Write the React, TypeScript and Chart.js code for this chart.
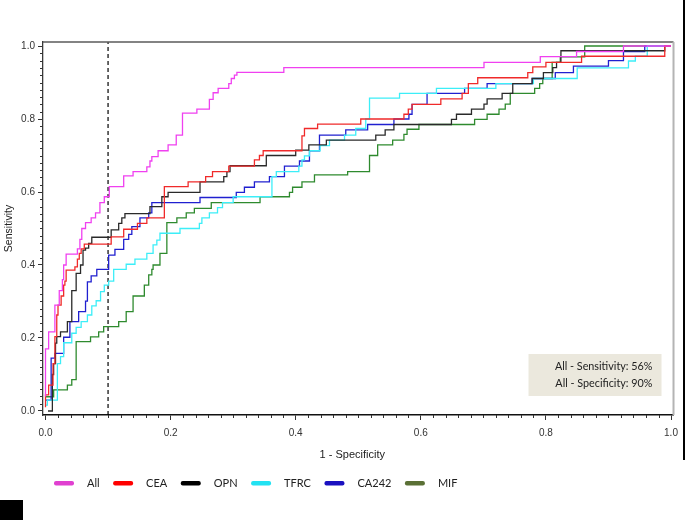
import React, { useEffect, useRef } from 'react';
import { Chart, registerables } from 'chart.js';

Chart.register(...registerables);

// ---- data ----
const seriesNames = ['All', 'CEA', 'OPN', 'TFRC', 'CA242', 'MIF'];
const lineColors = ['#f040f0', '#f02a2a', '#2a2a2a', '#3ceef8', '#2020d0', '#2e8a2e'];
const legendColors = ['#e040d0', '#ff0000', '#000000', '#22e2f2', '#1a10c0', '#5a7035'];

// each point: [1 - specificity, sensitivity] where the step rises
const allCurve = [
  [0, 0.04], [0, 0.17], [0.005, 0.217], [0.015, 0.29], [0.022, 0.33], [0.027, 0.36], [0.029, 0.4],
  [0.033, 0.43], [0.051, 0.444], [0.055, 0.47], [0.058, 0.5], [0.064, 0.516], [0.073, 0.529],
  [0.08, 0.543], [0.087, 0.571], [0.094, 0.587], [0.102, 0.615], [0.125, 0.644], [0.14, 0.656],
  [0.162, 0.669], [0.167, 0.685], [0.17, 0.697], [0.18, 0.713], [0.196, 0.729], [0.209, 0.756],
  [0.219, 0.816], [0.242, 0.827], [0.262, 0.854], [0.268, 0.872], [0.276, 0.884], [0.293, 0.897],
  [0.297, 0.911], [0.302, 0.92], [0.306, 0.928], [0.381, 0.941], [0.701, 0.955], [0.791, 0.971],
  [0.849, 0.985], [0.924, 1.0], [1.0, 1.0],
];
const ceaCurve = [
  [0, 0.01], [0, 0.044], [0.005, 0.071], [0.012, 0.13], [0.015, 0.204], [0.018, 0.263], [0.02, 0.29],
  [0.025, 0.315], [0.029, 0.345], [0.031, 0.356], [0.033, 0.386], [0.047, 0.395], [0.051, 0.416],
  [0.054, 0.432], [0.057, 0.444], [0.062, 0.457], [0.105, 0.477], [0.125, 0.498], [0.147, 0.514],
  [0.162, 0.529], [0.19, 0.615], [0.228, 0.628], [0.256, 0.642], [0.267, 0.656], [0.293, 0.671],
  [0.334, 0.688], [0.342, 0.7], [0.348, 0.713], [0.41, 0.754], [0.414, 0.774], [0.435, 0.786],
  [0.504, 0.8], [0.573, 0.813], [0.58, 0.827], [0.586, 0.84], [0.632, 0.855], [0.666, 0.87],
  [0.676, 0.897], [0.691, 0.913], [0.771, 0.927], [0.779, 0.943], [0.8, 0.955], [0.857, 0.972],
  [0.99, 1.0], [1.0, 1.0],
];
const opnCurve = [
  [0.004, 0.0], [0.011, 0.1], [0.013, 0.13], [0.016, 0.186], [0.018, 0.204], [0.024, 0.217],
  [0.035, 0.245], [0.042, 0.33], [0.049, 0.377], [0.056, 0.4], [0.06, 0.441], [0.064, 0.446],
  [0.069, 0.459], [0.074, 0.476], [0.105, 0.496], [0.117, 0.514], [0.122, 0.529], [0.127, 0.541],
  [0.167, 0.56], [0.186, 0.587], [0.196, 0.599], [0.247, 0.628], [0.285, 0.642], [0.29, 0.656],
  [0.295, 0.672], [0.353, 0.7], [0.4, 0.715], [0.421, 0.729], [0.449, 0.742], [0.528, 0.756],
  [0.543, 0.77], [0.557, 0.785], [0.649, 0.799], [0.657, 0.813], [0.681, 0.827], [0.701, 0.841],
  [0.706, 0.855], [0.73, 0.87], [0.747, 0.897], [0.778, 0.911], [0.796, 0.927], [0.811, 0.941],
  [0.817, 0.955], [0.824, 0.987], [0.99, 1.0], [1.0, 1.0],
];
const tfrcCurve = [
  [0, 0.016], [0.003, 0.03], [0.019, 0.13], [0.024, 0.149], [0.029, 0.187], [0.042, 0.213],
  [0.049, 0.229], [0.057, 0.245], [0.067, 0.263], [0.074, 0.288], [0.081, 0.302], [0.088, 0.327],
  [0.094, 0.345], [0.101, 0.356], [0.109, 0.388], [0.129, 0.402], [0.143, 0.416], [0.162, 0.432],
  [0.172, 0.455], [0.178, 0.468], [0.183, 0.487], [0.215, 0.5], [0.246, 0.514], [0.25, 0.529],
  [0.262, 0.543], [0.275, 0.557], [0.283, 0.571], [0.3, 0.587], [0.362, 0.642], [0.369, 0.656],
  [0.405, 0.671], [0.41, 0.688], [0.414, 0.699], [0.422, 0.713], [0.439, 0.727], [0.454, 0.742],
  [0.478, 0.756], [0.496, 0.774], [0.512, 0.8], [0.518, 0.857], [0.566, 0.87], [0.625, 0.884],
  [0.72, 0.897], [0.78, 0.911], [0.85, 0.94], [0.932, 0.959], [0.943, 0.972], [0.962, 1.0],
  [1.0, 1.0],
];
const ca242Curve = [
  [0, 0.03], [0.009, 0.145], [0.015, 0.158], [0.029, 0.202], [0.039, 0.245], [0.053, 0.272],
  [0.064, 0.301], [0.067, 0.354], [0.073, 0.37], [0.082, 0.388], [0.101, 0.427], [0.111, 0.443],
  [0.125, 0.47], [0.133, 0.484], [0.138, 0.505], [0.151, 0.529], [0.165, 0.543], [0.17, 0.571],
  [0.247, 0.585], [0.305, 0.599], [0.318, 0.613], [0.334, 0.628], [0.358, 0.642], [0.382, 0.671],
  [0.406, 0.685], [0.422, 0.713], [0.438, 0.756], [0.48, 0.77], [0.515, 0.785], [0.557, 0.8],
  [0.581, 0.813], [0.586, 0.84], [0.61, 0.87], [0.67, 0.884], [0.706, 0.897], [0.778, 0.911],
  [0.815, 0.927], [0.844, 0.945], [0.9, 0.96], [0.924, 0.985], [0.958, 1.0], [1.0, 1.0],
];
const mifCurve = [
  [0, 0.039], [0.013, 0.058], [0.035, 0.071], [0.042, 0.086], [0.049, 0.19], [0.072, 0.203],
  [0.085, 0.217], [0.093, 0.231], [0.117, 0.245], [0.129, 0.272], [0.14, 0.315], [0.158, 0.345],
  [0.165, 0.373], [0.17, 0.388], [0.172, 0.4], [0.183, 0.432], [0.194, 0.516], [0.21, 0.529],
  [0.225, 0.543], [0.238, 0.555], [0.265, 0.571], [0.343, 0.587], [0.39, 0.599], [0.395, 0.613],
  [0.41, 0.628], [0.43, 0.647], [0.483, 0.656], [0.518, 0.7], [0.531, 0.729], [0.555, 0.742],
  [0.573, 0.758], [0.578, 0.772], [0.597, 0.785], [0.686, 0.799], [0.706, 0.813], [0.725, 0.827],
  [0.735, 0.841], [0.743, 0.87], [0.782, 0.884], [0.79, 0.897], [0.795, 0.911], [0.81, 0.955],
  [0.823, 0.97], [0.862, 1.0], [1.0, 1.0],
];
const curves = [allCurve, ceaCurve, opnCurve, tfrcCurve, ca242Curve, mifCurve];

const majorTicks = [0, 0.2, 0.4, 0.6, 0.8, 1.0];
const minorTicks = [
  0.02, 0.04, 0.06, 0.08, 0.1, 0.12, 0.14, 0.16, 0.18, 0.22, 0.24, 0.26, 0.28, 0.3, 0.32, 0.34, 0.36, 0.38,
  0.42, 0.44, 0.46, 0.48, 0.5, 0.52, 0.54, 0.56, 0.58, 0.62, 0.64, 0.66, 0.68, 0.7, 0.72, 0.74, 0.76, 0.78,
  0.82, 0.84, 0.86, 0.88, 0.9, 0.92, 0.94, 0.96, 0.98,
];
const cutoffX = 0.1;
const noteLines = ['All - Sensitivity: 56%', 'All - Specificity: 90%'];
const xTitle = '1 - Specificity';
const yTitle = 'Sensitivity';

const X_MIN = -0.004;
const X_MAX = 1.004;
const Y_MIN = -0.011;
const Y_MAX = 1.011;

const TICK_FONT = '"Liberation Sans Narrow", "Liberation Sans", Arial, sans-serif';
const TITLE_FONT = '"Liberation Sans", Arial, sans-serif';

const decorPlugin = {
  id: 'decor',
  afterDraw(chart: any) {
    const { ctx, chartArea: a, scales } = chart;
    const x = scales.x;
    const y = scales.y;
    ctx.save();
    // minor ticks
    ctx.strokeStyle = '#333';
    ctx.lineWidth = 1;
    minorTicks.forEach((v) => {
      const px = Math.round(x.getPixelForValue(v)) + 0.5;
      ctx.beginPath();
      ctx.moveTo(px, a.bottom);
      ctx.lineTo(px, a.bottom + 3);
      ctx.stroke();
      const py = Math.round(y.getPixelForValue(v)) + 0.5;
      ctx.beginPath();
      ctx.moveTo(a.left, py);
      ctx.lineTo(a.left - 3, py);
      ctx.stroke();
    });
    // top frame
    ctx.strokeStyle = '#5a5a5a';
    ctx.lineWidth = 1.5;
    ctx.beginPath();
    ctx.moveTo(a.left, a.top);
    ctx.lineTo(a.right, a.top);
    ctx.stroke();
    // right frame
    ctx.strokeStyle = '#b4b4b4';
    ctx.lineWidth = 2;
    ctx.beginPath();
    ctx.moveTo(a.right, a.top);
    ctx.lineTo(a.right, a.bottom);
    ctx.stroke();

    // x axis title
    ctx.fillStyle = '#222';
    ctx.font = '11px ' + TITLE_FONT;
    ctx.textAlign = 'center';
    ctx.textBaseline = 'middle';
    ctx.fillText(xTitle, (a.left + a.right) / 2 - 6, a.bottom + 40);

    // note box
    const bx0 = a.right - 145;
    const bx1 = a.right - 12;
    const by0 = a.bottom - 61;
    const by1 = a.bottom - 19;
    ctx.fillStyle = '#ebe8dd';
    ctx.fillRect(bx0, by0, bx1 - bx0, by1 - by0);
    ctx.fillStyle = '#222';
    ctx.font = '10.8px Lato';
    ctx.textAlign = 'right';
    ctx.textBaseline = 'middle';
    ctx.fillText(noteLines[0], bx1 - 9, by0 + 13);
    ctx.fillText(noteLines[1], bx1 - 9, by0 + 29.5);

    // legend
    ctx.font = '11px Lato';
    ctx.textAlign = 'left';
    let cx = a.left + 11;
    const cy = a.bottom + 68;
    seriesNames.forEach((name, i) => {
      ctx.fillStyle = legendColors[i];
      ctx.beginPath();
      if ((ctx as any).roundRect) {
        (ctx as any).roundRect(cx, cy - 2, 20, 4.5, 2);
      } else {
        ctx.rect(cx, cy - 2, 20, 4.5);
      }
      ctx.fill();
      ctx.fillStyle = '#222';
      ctx.fillText(name, cx + 33, cy);
      cx += 33 + ctx.measureText(name).width + 13.5;
    });
    ctx.restore();
  },
};

export default function App() {
  const canvasRef = useRef<HTMLCanvasElement | null>(null);

  useEffect(() => {
    if (!canvasRef.current) return;
    const datasets: any[] = curves.map((c, i) => ({
      label: seriesNames[i],
      data: c.map((p) => ({ x: p[0], y: p[1] })),
      borderColor: lineColors[i],
      backgroundColor: lineColors[i],
      borderWidth: 1.3,
      pointRadius: 0,
      stepped: 'before',
      fill: false,
      tension: 0,
    }));
    datasets.push({
      label: 'cutoff',
      data: [
        { x: cutoffX, y: Y_MIN },
        { x: cutoffX, y: Y_MAX },
      ],
      borderColor: '#000',
      borderWidth: 1.2,
      borderDash: [4, 3],
      pointRadius: 0,
      fill: false,
    });

    const chart = new Chart(canvasRef.current, {
      type: 'line',
      data: { datasets },
      options: {
        animation: false,
        responsive: false,
        maintainAspectRatio: false,
        devicePixelRatio: 1,
        layout: { padding: { left: 0, right: 9, top: 42, bottom: 53 } },
        plugins: {
          legend: { display: false },
          tooltip: { enabled: false },
        },
        elements: { line: { borderJoinStyle: 'miter' } },
        scales: {
          x: {
            type: 'linear',
            min: X_MIN,
            max: X_MAX,
            afterBuildTicks: (s: any) => {
              s.ticks = majorTicks.map((v) => ({ value: v }));
            },
            afterFit: (s: any) => {
              s.height = 52;
            },
            ticks: {
              callback: (v: any) => Number(v).toFixed(1),
              font: { family: TICK_FONT, size: 10 },
              color: '#333',
              padding: 7,
              maxRotation: 0,
              autoSkip: false,
            },
            grid: { drawOnChartArea: false, tickLength: 5, color: '#333', tickColor: '#333' },
            border: { color: '#111', width: 1.5 },
            title: { display: false, text: xTitle },
          },
          y: {
            type: 'linear',
            min: Y_MIN,
            max: Y_MAX,
            afterBuildTicks: (s: any) => {
              s.ticks = majorTicks.map((v) => ({ value: v }));
            },
            afterFit: (s: any) => {
              s.width = 43;
            },
            ticks: {
              callback: (v: any) => Number(v).toFixed(1),
              font: { family: TICK_FONT, size: 10 },
              color: '#333',
              padding: 3,
              autoSkip: false,
            },
            grid: { drawOnChartArea: false, tickLength: 5, color: '#333', tickColor: '#333' },
            border: { color: '#3a3a3a', width: 1.3 },
            title: {
              display: true,
              text: yTitle,
              font: { family: TITLE_FONT, size: 10.5 },
              color: '#222',
              padding: { top: 3, bottom: 0 },
            },
          },
        },
      },
      plugins: [decorPlugin],
    } as any);
    return () => chart.destroy();
  }, []);

  return (
    <div style={{ position: 'absolute', left: 0, top: 0, width: 685, height: 520, background: '#fff' }}>
      <canvas ref={canvasRef} width={685} height={520} style={{ width: 685, height: 520, display: 'block' }} />
      <div style={{ position: 'absolute', left: 683, top: 0, width: 1.5, height: 460, background: '#000' }} />
      <div style={{ position: 'absolute', left: 0, top: 500, width: 23, height: 20, background: '#000' }} />
    </div>
  );
}
